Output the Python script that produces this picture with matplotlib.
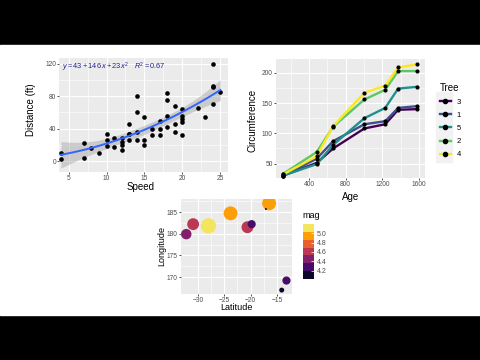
import numpy as np
import matplotlib.pyplot as plt
from matplotlib.lines import Line2D
from matplotlib.patches import Rectangle
from matplotlib.colors import ListedColormap

plt.rcParams['font.family'] = ['Liberation Sans', 'DejaVu Sans']
plt.rcParams['mathtext.fontset'] = 'custom'
plt.rcParams['mathtext.rm'] = 'Liberation Sans'
plt.rcParams['mathtext.it'] = 'Liberation Sans:italic'

# panel 1: speed vs stopping distance
speed = [4, 4, 7, 7, 8, 9, 10, 10, 10, 11, 11, 12, 12, 12, 12, 13, 13, 13, 13, 14,
         14, 14, 14, 15, 15, 15, 16, 16, 17, 17, 17, 18, 18, 18, 18, 19, 19, 19, 20, 20,
         20, 20, 20, 22, 23, 24, 24, 24, 24, 25]
dist = [2, 10, 4, 22, 16, 10, 18, 26, 34, 17, 28, 14, 20, 24, 28, 26, 34, 34, 46, 26,
        36, 60, 80, 20, 26, 54, 32, 40, 32, 40, 50, 42, 56, 76, 84, 36, 46, 68, 32, 48,
        52, 56, 64, 66, 54, 70, 92, 93, 120, 85]
eq_label = r'$y = 43 + 146\,x + 23\,x^2\quad R^2 = 0.67$'

# panel 2: tree growth
age = [118, 484, 664, 1004, 1231, 1372, 1582]
trees = ['3', '1', '5', '2', '4']
circumference = {
    '3': [30, 51, 75, 108, 115, 139, 140],
    '1': [30, 58, 87, 115, 120, 142, 145],
    '5': [30, 49, 81, 125, 142, 174, 177],
    '2': [33, 69, 111, 156, 172, 203, 203],
    '4': [32, 62, 112, 167, 179, 209, 214],
}
tree_colors = ['#440154', '#3B528B', '#21908C', '#5DC863', '#FDE725']

# panel 3: quakes
lat = [-16.5, -17.1, -23.8, -30.9, -28.0, -32.2, -20.6, -19.8, -13.2, -14.1]
lon = [187.0, 185.7, 184.7, 182.2, 181.8, 179.9, 181.5, 182.2, 169.2, 167.0]
mag = [4.9, 4.0, 4.9, 4.65, 5.1, 4.5, 4.65, 4.3, 4.3, 4.1]

W, H = 480, 360


def box(l, t, r, b):
    return [l / W, (H - b) / H, (r - l) / W, (b - t) / H]


def gg(ax, xmaj, xmin, ymaj, ymin):
    ax.set_facecolor('#EBEBEB')
    for s in ax.spines.values():
        s.set_visible(False)
    ax.set_xticks(xmaj)
    ax.set_xticks(xmin, minor=True)
    ax.set_yticks(ymaj)
    ax.set_yticks(ymin, minor=True)
    ax.grid(which='major', color='white', lw=0.8)
    ax.grid(which='minor', color='white', lw=0.4)
    ax.tick_params(which='minor', length=0)
    ax.tick_params(which='major', length=1.6, width=0.6, color='#333333',
                   labelsize=4.8, labelcolor='#4D4D4D', pad=0.8)
    ax.set_axisbelow(True)


def label(x, y, s, rot=0, size=7, ha='center'):
    fig.text(x / W, (H - y) / H, s, rotation=rot, ha=ha, va='center',
             fontsize=size, color='black')


fig = plt.figure(figsize=(4.8, 3.6), dpi=100, facecolor='black')
fig.patches.append(Rectangle((0, 45 / H), 1, 270 / H, transform=fig.transFigure,
                             color='white', zorder=-10))

# ---- panel 1
ax1 = fig.add_axes(box(59.3, 58, 228.3, 172))
gg(ax1, [5, 10, 15, 20, 25], [7.5, 12.5, 17.5, 22.5], [0, 40, 80, 120], [20, 60, 100])
x = np.array(speed, float)
y = np.array(dist, float)
X = np.vander(x, 3)
beta = np.linalg.lstsq(X, y, rcond=None)[0]
xs = np.linspace(x.min(), x.max(), 80)
Xs = np.vander(xs, 3)
fit = Xs @ beta
resid = y - X @ beta
s2 = resid @ resid / (len(x) - 3)
cov = s2 * np.linalg.inv(X.T @ X)
se = np.sqrt(np.einsum('ij,jk,ik->i', Xs, cov, Xs))
t975 = 2.012
ax1.fill_between(xs, fit - t975 * se, fit + t975 * se, color='#999999', alpha=0.4, lw=0)
ax1.scatter(speed, dist, s=11, color='black', zorder=3, lw=0)
ax1.plot(xs, fit, color='#3366FF', lw=1.4, zorder=4)
ax1.text(0.016, 0.915, eq_label, transform=ax1.transAxes, fontsize=5.3,
         color='#22228B', va='center', ha='left')
ax1.set_xlim(3.78, 26.05)
ax1.set_ylim(-13.6, 127.4)
label(141, 187, 'Speed')
label(31, 110, 'Distance (ft)', rot=90)

# ---- panel 2
ax2 = fig.add_axes(box(276, 59, 425, 178))
gg(ax2, [400, 800, 1200, 1600], [200, 600, 1000, 1400], [50, 100, 150, 200], [75, 125, 175])
handles = []
for t, c in zip(trees, tree_colors):
    ax2.plot(age, circumference[t], color=c, lw=1.7, zorder=2)
    ax2.scatter(age, circumference[t], s=9, color='black', zorder=3, lw=0)
    handles.append(Line2D([], [], color=c, lw=1.7, marker='o', markersize=3,
                          markerfacecolor='black', markeredgecolor='black'))
ax2.set_xlim(40, 1665)
ax2.set_ylim(26, 223)
label(252.7, 120, 'Circumference', rot=90)
label(351, 197, 'Age')
fig.patches.append(Rectangle((436 / W, (H - 162) / H), 16 / W, 70 / H,
                             transform=fig.transFigure, color='#F2F2F2', zorder=-5))
leg = fig.legend(handles, trees, title='Tree', loc='upper left',
                 bbox_to_anchor=(433 / W, (H - 76) / H), frameon=False, fontsize=5.5,
                 title_fontsize=7, handlelength=1.4, handletextpad=0.8,
                 labelspacing=0.75, numpoints=1)
leg._legend_box.align = 'left'

# ---- panel 3
ax3 = fig.add_axes(box(181, 199, 292, 294))
gg(ax3, [-30, -25, -20, -15], [-27.5, -22.5, -17.5], [170, 175, 180, 185],
   [172.5, 177.5, 182.5, 187.5])
cmap = ListedColormap(plt.get_cmap('inferno')(np.linspace(1 / 14, 13 / 14, 7)))
m = np.array(mag)
sizes = 2 + (m - 4.0) / (5.1 - 4.0) * 120
sc = ax3.scatter(lat, lon, s=sizes, c=m, cmap=cmap, vmin=4.02, vmax=5.2, lw=0, zorder=3)
ax3.set_xlim(-33.2, -12.15)
ax3.set_ylim(166.1, 188.0)
label(236.5, 308, 'Latitude', size=6.5)
label(162.2, 246, 'Longitude', rot=90, size=6.5)
cax = fig.add_axes(box(302.7, 224, 314, 279))
cb = fig.colorbar(sc, cax=cax, ticks=[4.2, 4.4, 4.6, 4.8, 5.0])
cb.outline.set_visible(False)
cb.ax.tick_params(length=2, width=0.5, color='white', labelsize=5,
                  labelcolor='#4D4D4D', pad=2, direction='in')
label(302.3, 216, 'mag', size=6.5, ha='left')

fig.savefig('out.png', dpi=100, facecolor=fig.get_facecolor())
